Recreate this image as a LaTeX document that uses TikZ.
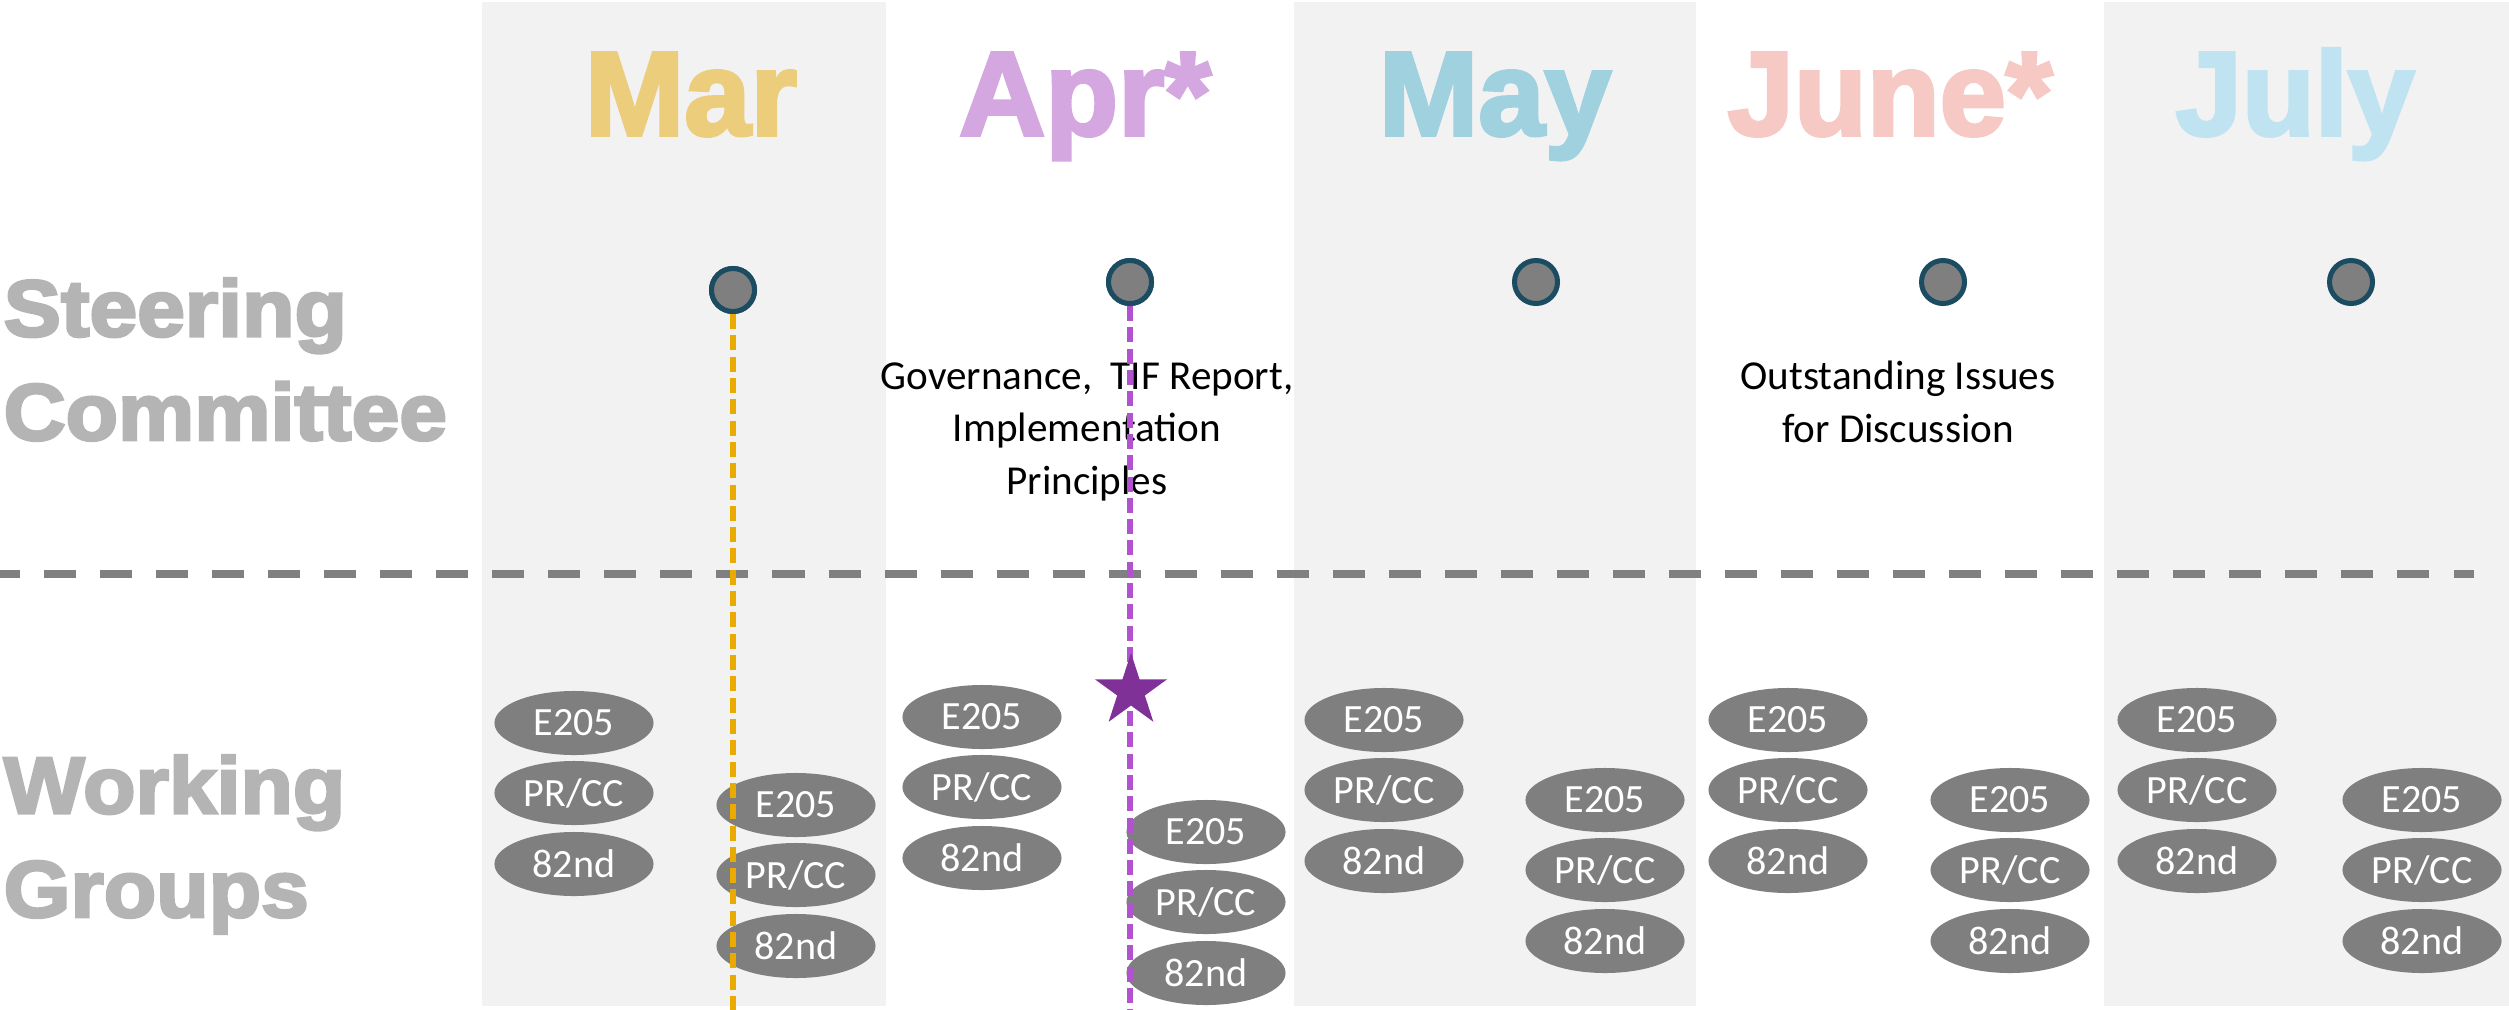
\documentclass[tikz,border=0pt]{standalone}
\usepackage{fontspec}
\usetikzlibrary{shapes.geometric}
\newfontfamily\bodyfont{Carlito}
\newfontfamily\headfont[FakeBold=3]{Liberation Sans Bold}
\newfontfamily\labelfont[FakeBold=3.5, FakeStretch=1.07]{Liberation Sans Bold}
\definecolor{bandgray}{HTML}{F2F2F2}
\definecolor{labelgray}{HTML}{B4B4B4}
\definecolor{cMar}{HTML}{ECCD7C}
\definecolor{cApr}{HTML}{D4A7E0}
\definecolor{cMay}{HTML}{9FD1DF}
\definecolor{cJun}{HTML}{F7C9C4}
\definecolor{cJul}{HTML}{BFE3F0}
\definecolor{dotfill}{HTML}{7F7F7F}
\definecolor{dotedge}{HTML}{1B4C61}
\definecolor{lineorange}{HTML}{EAAA00}
\definecolor{linepurple}{HTML}{B352D0}
\definecolor{starpurple}{HTML}{7F3197}
\definecolor{sepgray}{HTML}{808080}
\tikzset{
  band/.style={fill=bandgray, draw=none},
  month/.style={anchor=base, inner sep=0pt, font=\headfont\fontsize{33.9pt}{40pt}\selectfont},
  rowlabel/.style={anchor=base west, inner sep=0pt, align=left, text=labelgray,
    font=\labelfont\fontsize{22.8pt}{29.5pt}\selectfont},
  meeting/.style={circle, fill=dotfill, draw=dotedge, line width=0.05cm, minimum size=0.43cm, inner sep=0pt},
  group/.style={ellipse, fill=dotfill, draw=none, minimum width=1.59cm, minimum height=0.64cm,
    inner sep=0pt, text=white, font=\bodyfont\fontsize{11.4pt}{13pt}\selectfont},
  note/.style={anchor=base, inner sep=0pt, align=center, font=\bodyfont\fontsize{11.7pt}{14.8pt}\selectfont},
  vline/.style={line width=0.053cm, dash pattern=on 0.15cm off 0.063cm},
  sepline/.style={sepgray, line width=0.08cm, dash pattern=on 0.32cm off 0.24cm},
}
\begin{document}
\begin{tikzpicture}[x=0.01cm, y=-0.01cm]
\useasboundingbox (0,0) rectangle (2509,1009);
% column bands
\fill[band] (482,2) rectangle (886,1006);
\fill[band] (1294,2) rectangle (1696,1006);
\fill[band] (2104,2) rectangle (2509,1006);
% month titles
\node[month, text=cMar] (tMar) at (691,135) {Mar};
\node[month, text=cApr] (tApr) at (1085,135) {Apr*};
\node[month, text=cMay] (tMay) at (1495,135) {May};
\node[month, text=cJun] (tJun) at (1890,135) {June*};
\node[month, text=cJul] (tJul) at (2295,135) {July};
% row labels (base = last line)
\node[rowlabel] (lSC) at (3,440) {Steering\\Committee};
\node[rowlabel] (lWG) at (3,917) {Working\\Groups};
% separator
\coordinate (sepL) at (-12,574);
\coordinate (sepR) at (2474,574);
\draw[sepline] (sepL) -- (sepR);
% notes (base = last line)
\node[note] (nApr) at (1087,494) {Governance,\ \ TIF Report,\\Implementation\\Principles};
\node[note] (nJun) at (1898,442) {Outstanding Issues\\for Discussion};
% working group ellipses
\foreach \m/\xa/\ya/\xb/\yb in {Mar/574/723/796/805, Apr/982/717/1206/832, May/1384/720/1605/800, Jun/1788/720/2010/800, Jul/2197/720/2422/800}{
  \node[group] (\m-a1) at (\xa,\ya) {E205};
  \node[group] (\m-a2) at (\xa,\ya+70) {PR/CC};
  \node[group] (\m-a3) at (\xa,\ya+141) {82nd};
  \node[group] (\m-b1) at (\xb,\yb) {E205};
  \node[group] (\m-b2) at (\xb,\yb+70) {PR/CC};
  \node[group] (\m-b3) at (\xb,\yb+141) {82nd};
}
% steering meetings
\node[meeting] (dMar) at (733,290) {};
\node[meeting] (dApr) at (1130,282) {};
\node[meeting] (dMay) at (1536,282) {};
\node[meeting] (dJun) at (1943,282) {};
\node[meeting] (dJul) at (2351,282) {};
% vertical dashed lines
\coordinate (eMar) at (733,1012);
\coordinate (eApr) at (1130,1012);
\draw[vline, lineorange] (dMar.south) -- (eMar);
\draw[vline, linepurple] (dApr.south) -- (eApr);
\node[meeting] at (dMar) {};
\node[meeting] at (dApr) {};
% star
\node[star, star points=5, star point ratio=2.618, fill=starpurple, draw=none, minimum size=0.76cm, inner sep=0pt] (star) at (1131,691) {};
\end{tikzpicture}
\end{document}
